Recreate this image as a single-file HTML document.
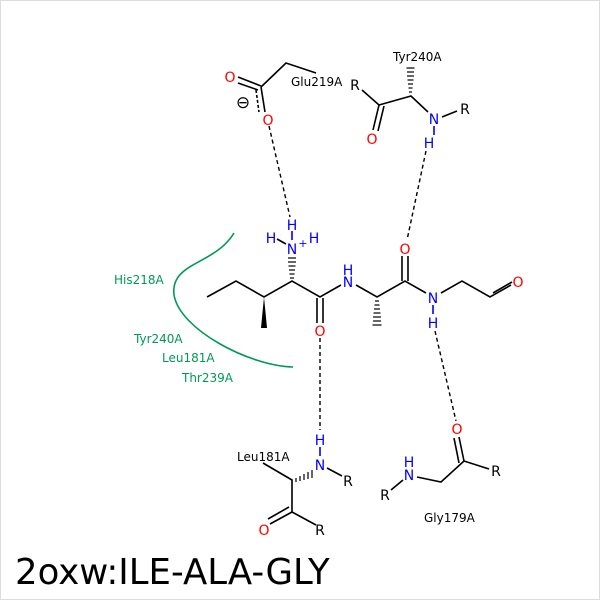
<!DOCTYPE html>
<html><head><style>body{margin:0;background:#fff}svg{display:block}</style></head><body>
<svg width="600" height="600" viewBox="0 0 600 600" xmlns="http://www.w3.org/2000/svg" font-family="DejaVu Sans, Liberation Sans, sans-serif" font-size="12">
<rect x="0.5" y="0.5" width="599" height="599" fill="#fff" stroke="#ddd"/>
<g stroke="#000" stroke-width="1.6" fill="none">
<polyline points="207,297 236,281 264,297 292,281 320,297 341,285"/>
<polyline points="356,285 377,297 405,281 426,293"/>
<polyline points="441,293 462,281 490,297 511,285"/>
<line x1="493" y1="293" x2="512" y2="282"/>
<line x1="317" y1="298" x2="317" y2="323"/><line x1="323" y1="298" x2="323" y2="323"/>
<line x1="402" y1="281" x2="402" y2="256"/><line x1="408" y1="281" x2="408" y2="256"/>
<polyline points="261,87 286,63 316,73"/>
<line x1="238" y1="77" x2="261" y2="86"/><line x1="238" y1="83" x2="258" y2="90"/>
<line x1="261" y1="87" x2="265" y2="112"/>
<line x1="256" y1="90" x2="259" y2="112" stroke-dasharray="3,2"/>
<polyline points="362,90 379,105 411,96 428,112"/>
<line x1="442" y1="117" x2="457" y2="111"/>
<line x1="379" y1="105" x2="373" y2="130"/><line x1="384" y1="106" x2="378" y2="131"/>
<line x1="434" y1="126" x2="434" y2="135" stroke="#0000ff"/>
<polyline points="263,463 292,480 292,512 316,525"/>
<line x1="292" y1="512" x2="270" y2="524"/><line x1="289" y1="507" x2="268" y2="519"/>
<line x1="327" y1="468" x2="342" y2="476"/>
<line x1="320" y1="447" x2="320" y2="456" stroke="#0000ff"/>
<polyline points="391,490 403,480"/>
<polyline points="417,477 441,482 464,461 489,469"/>
<line x1="464" y1="461" x2="459" y2="437"/><line x1="459" y1="463" x2="454" y2="438"/>
<line x1="292" y1="231" x2="292" y2="240" stroke="#0000ff"/>
<line x1="277" y1="239" x2="286" y2="244" stroke="#000"/>
<line x1="433" y1="305" x2="433" y2="314" stroke="#0000ff"/>
</g>
<polygon points="264,297 261,328 267,328" fill="#000"/>
<g stroke="#000" stroke-width="1.2">
<line x1="290" y1="278" x2="294" y2="278"/><line x1="289.5" y1="274" x2="294.5" y2="274"/><line x1="289" y1="270" x2="295" y2="270"/><line x1="288.5" y1="266" x2="295.5" y2="266"/><line x1="288" y1="262" x2="296" y2="262"/><line x1="288" y1="258" x2="296" y2="258"/>
<line x1="375" y1="301" x2="379" y2="301"/><line x1="374.5" y1="305" x2="379.5" y2="305"/><line x1="374" y1="309" x2="380" y2="309"/><line x1="373.5" y1="313" x2="380.5" y2="313"/><line x1="373" y1="317" x2="381" y2="317"/><line x1="373" y1="321" x2="381" y2="321"/><line x1="372.5" y1="325" x2="381.5" y2="325"/>
<line x1="409" y1="92" x2="412" y2="92"/><line x1="408.5" y1="88" x2="412.5" y2="88"/><line x1="408" y1="84" x2="413" y2="84"/><line x1="407.5" y1="80" x2="413.5" y2="80"/><line x1="407" y1="76" x2="414" y2="76"/><line x1="407" y1="72" x2="414" y2="72"/><line x1="406.5" y1="68" x2="414.5" y2="68"/>
<line x1="296" y1="478" x2="296" y2="482"/><line x1="300" y1="476" x2="300" y2="481"/><line x1="304" y1="474" x2="304" y2="480"/><line x1="308" y1="472" x2="308" y2="479"/><line x1="312" y1="470" x2="312" y2="478"/>
</g>
<g stroke="#000" stroke-width="1.4" stroke-dasharray="4,3" fill="none">
<line x1="269" y1="126" x2="290" y2="217"/>
<line x1="426" y1="151" x2="407" y2="240"/>
<line x1="320" y1="338" x2="320" y2="430"/>
<line x1="435" y1="331" x2="456" y2="421"/>
</g>
<path d="M234,233 C215,265 170,262 174,295 C180,330 250,366 293,367" stroke="#009955" stroke-width="1.6" fill="none"/>
<g fill="#009955" font-size="12">
<text x="114" y="284">His218A</text>
<text x="134" y="343">Tyr240A</text>
<text x="162" y="362">Leu181A</text>
<text x="182" y="382">Thr239A</text>
</g>
<g font-size="14" text-anchor="middle">
<g fill="#ff0000">
<text x="518" y="287">O</text><text x="320" y="336">O</text><text x="405" y="254">O</text>
<text x="230" y="82">O</text><text x="268" y="125">O</text><text x="372" y="144">O</text>
<text x="264" y="535">O</text><text x="457" y="434">O</text>
</g>
<g fill="#0000ff">
<text x="292" y="254">N</text><text x="292" y="230">H</text><text x="271" y="243">H</text><text x="314" y="243">H</text>
<text x="303" y="247" font-size="11">+</text>
<text x="348" y="287">N</text><text x="348" y="275">H</text>
<text x="433" y="303">N</text><text x="433" y="328">H</text>
<text x="434" y="124">N</text><text x="429" y="148">H</text>
<text x="320" y="470">N</text><text x="320" y="445">H</text>
<text x="409" y="480">N</text><text x="409" y="467">H</text>
</g>
<g fill="#000">
<text x="243" y="108" font-size="17">⊖</text>
<text x="355" y="90">R</text><text x="465" y="114">R</text>
<text x="348" y="486">R</text><text x="320" y="535">R</text>
<text x="496" y="476">R</text><text x="385" y="500">R</text>
</g>
</g>
<g fill="#000" font-size="12">
<text x="291" y="86">Glu219A</text>
<text x="393" y="61">Tyr240A</text>
<text x="237" y="461">Leu181A</text>
<text x="424" y="522">Gly179A</text>
</g>
<text x="15" y="584" font-size="35.5" fill="#000">2oxw:ILE-ALA-GLY</text>
</svg>
</body></html>
